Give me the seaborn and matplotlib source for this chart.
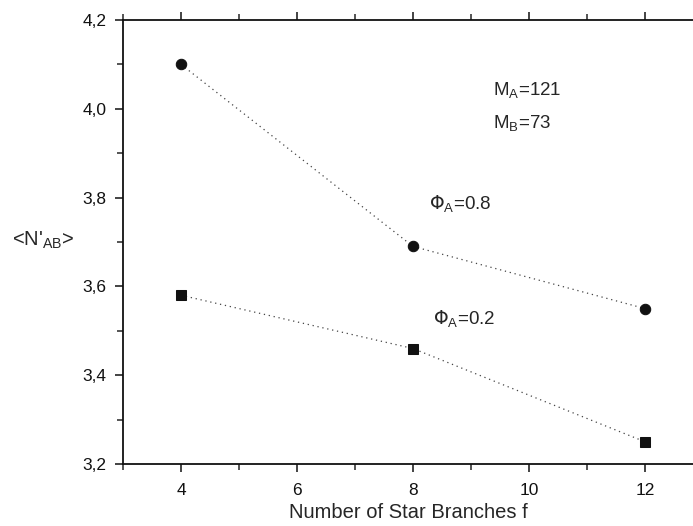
import seaborn as sns
import matplotlib.pyplot as plt
import pandas as pd
from matplotlib.ticker import FuncFormatter, MultipleLocator

# data
branches = [4, 8, 12]
n_ab_phi08 = [4.10, 3.69, 3.55]
n_ab_phi02 = [3.58, 3.46, 3.25]

df = pd.DataFrame({
    "f": branches * 2,
    "N": n_ab_phi08 + n_ab_phi02,
    "phi": ["0.8"] * 3 + ["0.2"] * 3,
})

sns.set_style("ticks")
plt.rcParams['font.family'] = ['Liberation Sans', 'DejaVu Sans']

fig = plt.figure(figsize=(6.93, 5.26), dpi=100)
ax = fig.add_axes([0.1775, 0.118, 0.8225, 0.844])

sns.lineplot(data=df, x="f", y="N", hue="phi", style="phi",
             markers={"0.8": "o", "0.2": "s"}, dashes=False,
             palette={"0.8": "#111111", "0.2": "#111111"},
             markersize=7.5, linewidth=0.9, legend=False, ax=ax)
for line in ax.lines:
    line.set_linestyle((0, (1, 3)))
    line.set_color("#444444")
    line.set_markerfacecolor("#111111")
    line.set_markeredgecolor("#111111")

ax.set_xlim(3, 12.83)
ax.set_ylim(3.2, 4.2)
ax.xaxis.set_major_locator(MultipleLocator(2))
ax.xaxis.set_minor_locator(MultipleLocator(1))
ax.yaxis.set_major_locator(MultipleLocator(0.2))
ax.yaxis.set_minor_locator(MultipleLocator(0.1))
ax.yaxis.set_major_formatter(FuncFormatter(lambda v, p: f"{v:.1f}".replace(".", ",")))

ax.spines["right"].set_visible(False)
for s in ["left", "bottom", "top"]:
    ax.spines[s].set_linewidth(1.3)
    ax.spines[s].set_color("#111111")
ax.tick_params(which="major", length=6, width=1.1, labelsize=12.5, colors="#111111", pad=6)
ax.tick_params(which="minor", length=4, width=1.1)
ax.tick_params(axis="x", which="both", top=True, direction="out")
ax.tick_params(axis="x", which="major", pad=8)

ax.set_xlabel("Number of Star Branches f", fontsize=14.5, labelpad=3)
ax.set_ylabel(r"<N'$_{\mathregular{AB}}$>", fontsize=14.5, rotation=0)
ax.yaxis.set_label_coords(-0.14, 0.48)

ax.text(9.38, 4.04, r"M$_{\mathregular{A}}$=121", fontsize=13.5, va="center")
ax.text(9.38, 3.965, r"M$_{\mathregular{B}}$=73", fontsize=13.5, va="center")
ax.text(8.27, 3.785, r"$\Phi_{\mathregular{A}}$=0.8", fontsize=13.5, va="center")
ax.text(8.35, 3.525, r"$\Phi_{\mathregular{A}}$=0.2", fontsize=13.5, va="center")

fig.savefig("out.png", dpi=100)
